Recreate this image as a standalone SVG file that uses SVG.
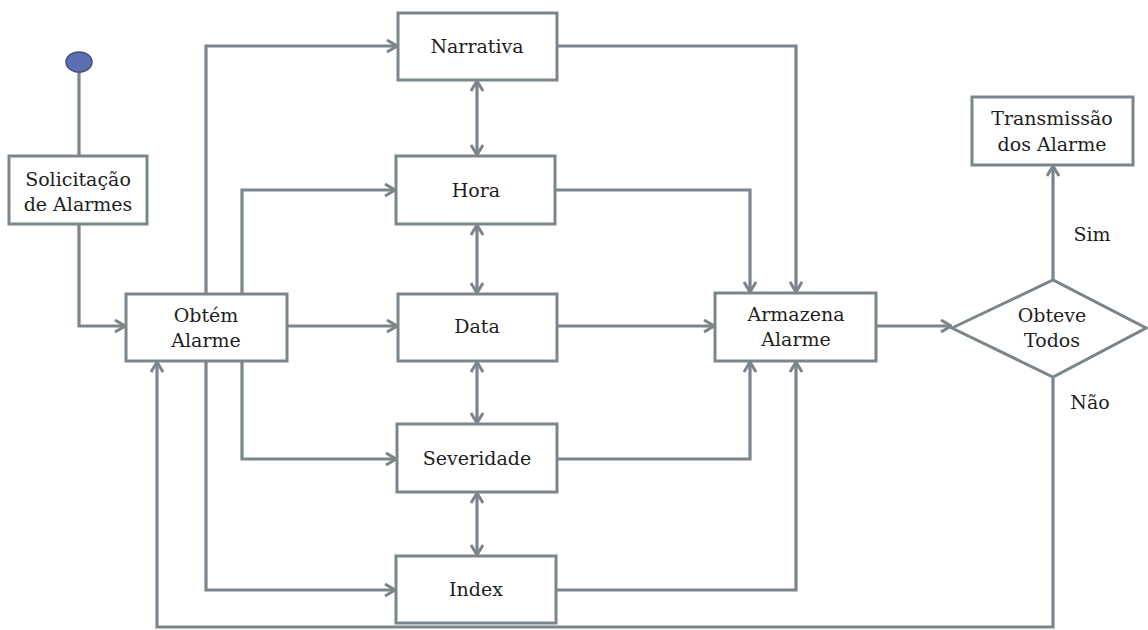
<svg xmlns="http://www.w3.org/2000/svg" width="1148" height="630" viewBox="0 0 1148 630">
  <defs>
    <marker id="arr" viewBox="0 0 12 14" refX="11" refY="7" markerWidth="12" markerHeight="14" markerUnits="userSpaceOnUse" orient="auto-start-reverse">
      <path d="M1,1 L11,7 L1,13" fill="none" stroke="#7b868b" stroke-width="3"/>
    </marker>
    <style>
      .box { fill: #ffffff; stroke: #7b868b; stroke-width: 3; }
      .ln { fill: none; stroke: #7b868b; stroke-width: 3.2; }
      .a { marker-end: url(#arr); }
      .ab { marker-start: url(#arr); marker-end: url(#arr); }
      text { font-family: "DejaVu Serif", "Liberation Serif", serif; font-size: 19px; fill: #1e1e1e; text-anchor: middle; }
    </style>
  </defs>
  <rect width="1148" height="630" fill="#ffffff"/>

  <g id="connectors">
    <!-- start point to request -->
    <path class="ln" d="M79,72 V156"/>
    <path class="ln a" d="M79,224 V326 H125"/>
    <!-- Obtém Alarme branches -->
    <path class="ln a" d="M206,294 V46 H397"/>
    <path class="ln a" d="M242,294 V190 H395"/>
    <path class="ln a" d="M287,326 H397"/>
    <path class="ln a" d="M242,361 V459 H396"/>
    <path class="ln a" d="M206,361 V590 H395"/>
    <!-- links between attribute boxes -->
    <path class="ln ab" d="M477,81 V155"/>
    <path class="ln ab" d="M477,225 V293"/>
    <path class="ln ab" d="M477,362 V423"/>
    <path class="ln ab" d="M477,493 V555"/>
    <!-- attributes to Armazena Alarme -->
    <path class="ln a" d="M557,46 H796 V292"/>
    <path class="ln a" d="M555,190 H750 V292"/>
    <path class="ln a" d="M557,326 H714"/>
    <path class="ln a" d="M557,459 H750 V362"/>
    <path class="ln a" d="M556,590 H796 V362"/>
    <!-- decision -->
    <path class="ln a" d="M876,326 H951"/>
    <path class="ln a" d="M1053,280 V166"/>
    <path class="ln a" d="M1053,377 V627 H157 V362"/>
  </g>

  <g id="start">
    <ellipse cx="79" cy="62" rx="13" ry="10" fill="#5b6fb2" stroke="#3f4f86" stroke-width="1.5"/>
  </g>

  <g id="solicitacao">
    <rect class="box" x="9" y="156" width="138" height="68"/>
    <text x="78" y="186">Solicitação</text>
    <text x="78" y="211">de Alarmes</text>
  </g>

  <g id="obtem">
    <rect class="box" x="126" y="294" width="161" height="67"/>
    <text x="206" y="322">Obtém</text>
    <text x="206" y="347">Alarme</text>
  </g>

  <g id="narrativa">
    <rect class="box" x="398" y="13" width="159" height="67"/>
    <text x="477" y="53">Narrativa</text>
  </g>

  <g id="hora">
    <rect class="box" x="396" y="156" width="159" height="68"/>
    <text x="476" y="197">Hora</text>
  </g>

  <g id="data">
    <rect class="box" x="398" y="294" width="159" height="67"/>
    <text x="477" y="333">Data</text>
  </g>

  <g id="severidade">
    <rect class="box" x="397" y="424" width="160" height="68"/>
    <text x="477" y="465">Severidade</text>
  </g>

  <g id="index">
    <rect class="box" x="396" y="556" width="160" height="67"/>
    <text x="476" y="596">Index</text>
  </g>

  <g id="armazena">
    <rect class="box" x="715" y="293" width="161" height="68"/>
    <text x="796" y="321">Armazena</text>
    <text x="796" y="346">Alarme</text>
  </g>

  <g id="obteve">
    <polygon class="box" points="952,328 1053,280 1146,328 1053,377"/>
    <text x="1052" y="322">Obteve</text>
    <text x="1052" y="347">Todos</text>
  </g>

  <g id="transmissao">
    <rect class="box" x="972" y="97" width="161" height="68"/>
    <text x="1052" y="125">Transmissão</text>
    <text x="1052" y="151">dos Alarme</text>
  </g>

  <g id="labels">
    <text x="1092" y="241">Sim</text>
    <text x="1090" y="409">Não</text>
  </g>
</svg>
